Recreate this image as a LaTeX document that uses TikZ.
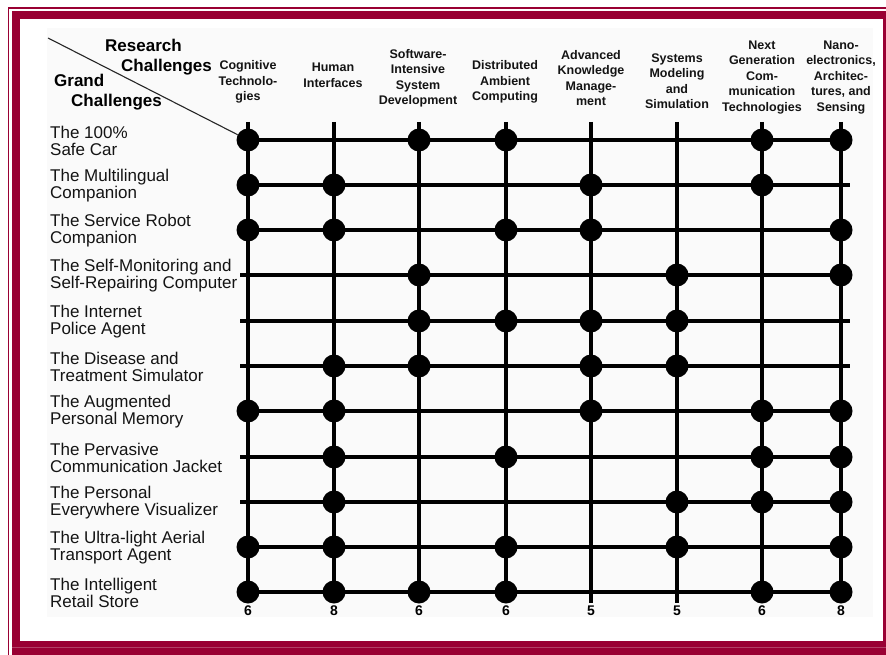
\documentclass[tikz,border=0pt]{standalone}
\usepackage{fontspec}
\setmainfont{Liberation Sans}
\definecolor{framered}{HTML}{990033}
\definecolor{panel}{HTML}{FAFAFA}
\begin{document}
\begin{tikzpicture}[x=1pt,y=-1pt,
  gridline/.style={line width=4pt, black},
  dot/.style={circle, fill=black, minimum size=23pt, inner sep=0pt},
  rowlabel/.style={anchor=west, align=left, inner sep=0pt, text=black!92,
    font=\fontsize{17}{17}\selectfont},
  colhead/.style={align=center, inner sep=0pt, text=black!92,
    font=\bfseries\fontsize{12.5}{15.5}\selectfont},
  axistitle/.style={anchor=west, align=left, inner sep=0pt,
    font=\bfseries\fontsize{17}{20.5}\selectfont},
  count/.style={inner sep=0pt, font=\bfseries\fontsize{14}{14}\selectfont},
]
\useasboundingbox (0,0) rectangle (886,655);
% page and frame
\fill[white] (0,0) rectangle (886,655);
\draw[framered, line width=1.2pt] (8.5,655) -- (8.5,8) -- (886,8);
\fill[framered] (12,11) rectangle (886,655);
\fill[white] (20,19) rectangle (883,641);
\draw[framered!75!white, line width=0.8pt] (12,647.5) -- (886,647.5);
\fill[panel] (47,28) rectangle (873,617);

% corner titles
\node[axistitle] (research) at (105,57) {Research\\\hspace*{16pt}Challenges};
\node[axistitle] (grand) at (54,92) {Grand\\\hspace*{17pt}Challenges};

% column headers
\node[colhead] (h1) at (248,82) {Cognitive\\Technolo-\\gies};
\node[colhead] (h2) at (333,75.5) {Human\\Interfaces};
\node[colhead] (h3) at (418,78.5) {Software-\\Intensive\\System\\Development};
\node[colhead] (h4) at (505,82) {Distributed\\Ambient\\Computing};
\node[colhead] (h5) at (591,78) {Advanced\\Knowledge\\Manage-\\ment};
\node[colhead] (h6) at (677,81) {Systems\\Modeling\\and\\Simulation};
\node[colhead] (h7) at (762,77.5) {Next\\Generation\\Com-\\munication\\Technologies};
\node[colhead] (h8) at (841,77.5) {Nano-\\electronics,\\Architec-\\tures, and\\Sensing};

% column positions, vertical lines and totals
\foreach \c/\x/\b/\n in {1/248/592/6, 2/334/592/8, 3/419/592/6, 4/506/592/6,
                          5/591/603/5, 6/677/603/5, 7/762/592/6, 8/841/592/8} {
  \coordinate (col\c) at (\x,0);
  \coordinate (top\c) at (\x,122);
  \coordinate (bot\c) at (\x,\b);
  \draw[gridline] (top\c) -- (bot\c);
  \node[count] (total\c) at (\x,611) {\n};
}

% row positions, horizontal lines and labels
\foreach \r/\y/\l/\e/\txt in {
    1/140/248/841/{The 100\%\\Safe Car},
    2/185/240/850/{The Multilingual\\Companion},
    3/230/248/841/{The Service Robot\\Companion},
    4/275/240/841/{The Self-Monitoring and\\Self-Repairing Computer},
    5/321/240/850/{The Internet\\Police Agent},
    6/366/240/850/{The Disease and\\Treatment Simulator},
    7/411/248/841/{The Augmented\\Personal Memory},
    8/457/240/841/{The Pervasive\\Communication Jacket},
    9/502/240/841/{The Personal\\Everywhere Visualizer},
    10/547/248/841/{The Ultra-light Aerial\\Transport Agent},
    11/592/248/841/{The Intelligent\\Retail Store}} {
  \coordinate (row\r) at (0,\y);
  \coordinate (left\r) at (\l,\y);
  \coordinate (right\r) at (\e,\y);
  \draw[gridline] (left\r) -- (right\r);
  \node[rowlabel] (label\r) at (50,\y+1) {\txt};
}

% contributions of research challenges to grand challenges
\foreach \r/\cols in {1/{1,3,4,7,8}, 2/{1,2,5,7}, 3/{1,2,4,5,8}, 4/{3,6,8},
                      5/{3,4,5,6}, 6/{2,3,5,6}, 7/{1,2,5,7,8}, 8/{2,4,7,8},
                      9/{2,6,7,8}, 10/{1,2,4,6,8}, 11/{1,2,3,4,7,8}} {
  \foreach \c in \cols {
    \node[dot] (d\r-\c) at (col\c |- row\r) {};
  }
}

% diagonal divider of the corner cell
\coordinate (corner) at (48,38);
\draw[line width=1.1pt, black!85] (corner) -- (d1-1);
\end{tikzpicture}
\end{document}
